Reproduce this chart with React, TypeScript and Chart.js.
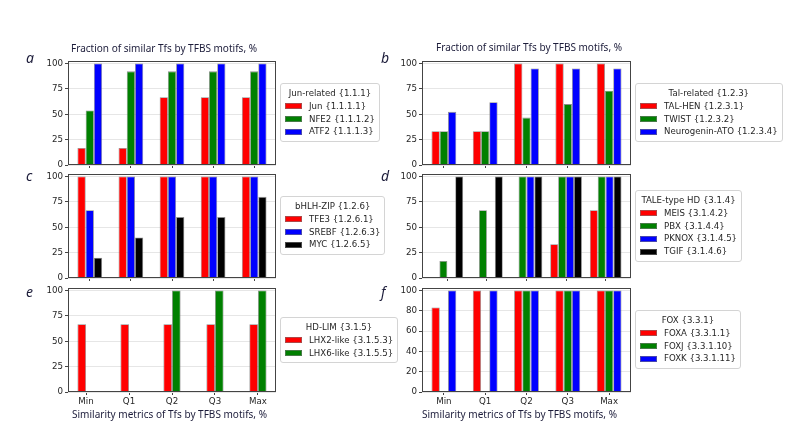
import React, { useEffect, useRef } from 'react';
import { Chart, registerables } from 'chart.js';

Chart.register(...registerables);

// Similarity metric categories along the x axis
const METRICS = ['Min', 'Q1', 'Q2', 'Q3', 'Max'];

// y tick sets
const PERCENT_TICKS = [0, 25, 50, 75, 100];
const FOX_TICKS = [0, 20, 40, 60, 80, 100];

// a: Jun-related {1.1.1}
const JUN = [16.7, 16.7, 66.7, 66.7, 66.7];
const NFE2 = [53.8, 92.3, 92.3, 92.3, 92.3];
const ATF2 = [100, 100, 100, 100, 100];

// b: Tal-related {1.2.3}
const TAL_HEN = [33.3, 33.3, 100, 100, 100];
const TWIST = [33.3, 33.3, 46.7, 60, 73.3];
const NEUROGENIN_ATO = [52.4, 61.9, 95.2, 95.2, 95.2];

// c: bHLH-ZIP {1.2.6}
const TFE3 = [100, 100, 100, 100, 100];
const SREBF = [66.7, 100, 100, 100, 100];
const MYC = [20, 40, 60, 60, 80];

// d: TALE-type HD {3.1.4}
const MEIS = [0, 0, 0, 33.3, 66.7];
const PBX = [16.7, 66.7, 100, 100, 100];
const PKNOX = [0, 0, 100, 100, 100];
const TGIF = [100, 100, 100, 100, 100];

// e: HD-LIM {3.1.5}
const LHX2_LIKE = [66.7, 66.7, 66.7, 66.7, 66.7];
const LHX6_LIKE = [0, 0, 100, 100, 100];

// f: FOX {3.3.1}
const FOXA = [83.3, 100, 100, 100, 100];
const FOXJ = [0, 0, 100, 100, 100];
const FOXK = [100, 100, 100, 100, 100];

const RED = '#ff0000';
const GREEN = '#008000';
const BLUE = '#0000ff';
const BLACK = '#000000';

const TEXT = '#262626';
const AXIS = '#444444';
const GRID = '#e6e6e6';
const EDGE = 'rgba(120,120,120,0.85)';
const CAPTION = '#1c1c3a';

const TICK_FONT = { family: '"DejaVu Sans", sans-serif', size: 8.7 };

type Series = { label: string; values: number[]; color: string };
type Panel = {
  letter: string;
  legendTitle: string;
  series: Series[];
  yTicks: number[];
  showX: boolean;
  col: number;
  row: number;
};

const PANELS: Panel[] = [
  {
    letter: 'a', legendTitle: 'Jun-related {1.1.1}', yTicks: PERCENT_TICKS, showX: false, col: 0, row: 0,
    series: [
      { label: 'Jun {1.1.1.1}', values: JUN, color: RED },
      { label: 'NFE2 {1.1.1.2}', values: NFE2, color: GREEN },
      { label: 'ATF2 {1.1.1.3}', values: ATF2, color: BLUE },
    ],
  },
  {
    letter: 'b', legendTitle: 'Tal-related {1.2.3}', yTicks: PERCENT_TICKS, showX: false, col: 1, row: 0,
    series: [
      { label: 'TAL-HEN {1.2.3.1}', values: TAL_HEN, color: RED },
      { label: 'TWIST {1.2.3.2}', values: TWIST, color: GREEN },
      { label: 'Neurogenin-ATO {1.2.3.4}', values: NEUROGENIN_ATO, color: BLUE },
    ],
  },
  {
    letter: 'c', legendTitle: 'bHLH-ZIP {1.2.6}', yTicks: PERCENT_TICKS, showX: false, col: 0, row: 1,
    series: [
      { label: 'TFE3 {1.2.6.1}', values: TFE3, color: RED },
      { label: 'SREBF {1.2.6.3}', values: SREBF, color: BLUE },
      { label: 'MYC {1.2.6.5}', values: MYC, color: BLACK },
    ],
  },
  {
    letter: 'd', legendTitle: 'TALE-type HD {3.1.4}', yTicks: PERCENT_TICKS, showX: false, col: 1, row: 1,
    series: [
      { label: 'MEIS {3.1.4.2}', values: MEIS, color: RED },
      { label: 'PBX {3.1.4.4}', values: PBX, color: GREEN },
      { label: 'PKNOX {3.1.4.5}', values: PKNOX, color: BLUE },
      { label: 'TGIF {3.1.4.6}', values: TGIF, color: BLACK },
    ],
  },
  {
    letter: 'e', legendTitle: 'HD-LIM {3.1.5}', yTicks: PERCENT_TICKS, showX: true, col: 0, row: 2,
    series: [
      { label: 'LHX2-like {3.1.5.3}', values: LHX2_LIKE, color: RED },
      { label: 'LHX6-like {3.1.5.5}', values: LHX6_LIKE, color: GREEN },
    ],
  },
  {
    letter: 'f', legendTitle: 'FOX {3.3.1}', yTicks: FOX_TICKS, showX: true, col: 1, row: 2,
    series: [
      { label: 'FOXA {3.3.1.1}', values: FOXA, color: RED },
      { label: 'FOXJ {3.3.1.10}', values: FOXJ, color: GREEN },
      { label: 'FOXK {3.3.1.11}', values: FOXK, color: BLUE },
    ],
  },
];

// Plot-area geometry (page pixels)
const COL_LEFT = [68, 422];
const COL_WIDTH = [208, 209];
const ROW_TOP = [61, 174, 288];
const PLOT_H = 104;
const Y_MAX = 102.5;

// Canvas margins around the plot area
const Y_W = 36;
const X_H = 18;
const PAD_T = 10;
const PAD_R = 6;

const framePlugin = {
  id: 'frame',
  afterDatasetsDraw(chart: any) {
    const { ctx, chartArea } = chart;
    const { left, top, right, bottom } = chartArea;
    ctx.save();
    ctx.strokeStyle = AXIS;
    ctx.lineWidth = 1;
    ctx.strokeRect(Math.round(left) + 0.5, Math.round(top) + 0.5, Math.round(right - left) - 1, Math.round(bottom - top) - 1);
    ctx.restore();
  },
};

function BarPanel({ panel }: { panel: Panel }) {
  const ref = useRef<HTMLCanvasElement>(null);
  const plotLeft = COL_LEFT[panel.col];
  const plotW = COL_WIDTH[panel.col];
  const plotTop = ROW_TOP[panel.row];
  const width = Y_W + plotW + PAD_R;
  const height = PAD_T + PLOT_H + X_H;

  useEffect(() => {
    if (!ref.current) return;
    const n = panel.series.length;
    const half = 0.1 * n;
    const margin = 0.05 * (METRICS.length - 1 + 2 * half);
    const xMin = -half - margin;
    const xMax = METRICS.length - 1 + half + margin;

    const chart = new Chart(ref.current, {
      type: 'bar',
      data: {
        datasets: panel.series.map((s) => ({
          label: s.label,
          data: s.values.map((v, i) => ({ x: i, y: v })),
          backgroundColor: s.color,
          borderColor: EDGE,
          borderWidth: 0.8,
          categoryPercentage: 0.2 * n,
          barPercentage: 1,
        })),
      },
      options: {
        animation: false,
        responsive: false,
        maintainAspectRatio: false,
        events: [],
        layout: { padding: { top: PAD_T, right: PAD_R, left: 0, bottom: 0 } },
        plugins: { legend: { display: false }, tooltip: { enabled: false } },
        scales: {
          x: {
            type: 'linear',
            offset: false,
            bounds: 'data',
            min: xMin,
            max: xMax,
            afterBuildTicks: (axis: any) => {
              axis.ticks = METRICS.map((_, i) => ({ value: i }));
            },
            afterFit: (axis: any) => {
              axis.height = X_H;
            },
            border: { display: false },
            grid: { offset: false, drawOnChartArea: false, drawTicks: true, tickLength: 3, tickColor: AXIS, tickWidth: 1 },
            ticks: {
              autoSkip: false,
              maxRotation: 0,
              padding: 2,
              color: TEXT,
              font: TICK_FONT,
              callback: (v: any) => (panel.showX ? METRICS[Math.round(Number(v))] : ''),
            },
          },
          y: {
            type: 'linear',
            min: 0,
            max: Y_MAX,
            afterBuildTicks: (axis: any) => {
              axis.ticks = panel.yTicks.map((v) => ({ value: v }));
            },
            afterFit: (axis: any) => {
              axis.width = Y_W;
            },
            border: { display: false },
            grid: { color: GRID, lineWidth: 1, drawTicks: true, tickLength: 3, tickColor: AXIS, tickWidth: 1 },
            ticks: { padding: 2, color: TEXT, font: TICK_FONT, callback: (v: any) => String(v) },
          },
        },
      },
      plugins: [framePlugin],
    } as any);
    return () => chart.destroy();
  }, [panel]);

  return (
    <canvas
      ref={ref}
      width={width}
      height={height}
      style={{ position: 'absolute', left: plotLeft - Y_W, top: plotTop - PAD_T, width, height }}
    />
  );
}

const LEGEND_ROW = 12.8;
const LEGEND_PAD = 3;

function LegendBox({ panel }: { panel: Panel }) {
  const left = COL_LEFT[panel.col] + COL_WIDTH[panel.col] + 4;
  const centerY = ROW_TOP[panel.row] + PLOT_H / 2;
  const boxH = LEGEND_ROW * (panel.series.length + 1) + 2 * LEGEND_PAD + 2;
  const top = Math.round(centerY - boxH / 2);
  return (
    <div
      style={{
        position: 'absolute',
        left,
        top,
        border: '1px solid #d4d4d4',
        borderRadius: 3,
        background: 'rgba(255,255,255,0.85)',
        padding: `${LEGEND_PAD}px 4px ${LEGEND_PAD}px 4px`,
        fontFamily: '"DejaVu Sans", sans-serif',
        fontSize: 8.6,
        lineHeight: `${LEGEND_ROW}px`,
        color: TEXT,
        whiteSpace: 'nowrap',
      }}
    >
      <div style={{ textAlign: 'center' }}>{panel.legendTitle}</div>
      {panel.series.map((s) => (
        <div key={s.label} style={{ display: 'flex', alignItems: 'center', height: LEGEND_ROW }}>
          <span
            style={{
              display: 'inline-block',
              width: 17,
              height: 6,
              background: s.color,
              marginRight: 7,
              boxSizing: 'border-box',
              border: '0.5px solid rgba(120,120,120,0.6)',
            }}
          />
          <span>{s.label}</span>
        </div>
      ))}
    </div>
  );
}

const TITLE = 'Fraction of similar Tfs by TFBS motifs, %';
const X_TITLE = 'Similarity metrics of Tfs by TFBS motifs, %';

const LETTER_POS: Record<string, [number, number]> = {
  a: [26, 63.3],
  b: [381, 63.3],
  c: [26, 181],
  d: [381, 181],
  e: [26, 296.5],
  f: [381, 296.5],
};

function Captions() {
  const captionFont = '"Noto Sans", "Open Sans", sans-serif';
  return (
    <svg
      width={791}
      height={432}
      style={{ position: 'absolute', left: 0, top: 0, pointerEvents: 'none' }}
    >
      <text x={71} y={51.7} fontFamily={captionFont} fontSize={11} fill={CAPTION} textLength={186} lengthAdjust="spacingAndGlyphs">
        {TITLE}
      </text>
      <text x={436} y={51.2} fontFamily={captionFont} fontSize={11} fill={CAPTION} textLength={186} lengthAdjust="spacingAndGlyphs">
        {TITLE}
      </text>
      <text x={72} y={417.5} fontFamily={captionFont} fontSize={10.5} fill={CAPTION} textLength={195} lengthAdjust="spacingAndGlyphs">
        {X_TITLE}
      </text>
      <text x={422} y={417.5} fontFamily={captionFont} fontSize={10.5} fill={CAPTION} textLength={195} lengthAdjust="spacingAndGlyphs">
        {X_TITLE}
      </text>
      {PANELS.map((p) => (
        <text
          key={p.letter}
          x={LETTER_POS[p.letter][0]}
          y={LETTER_POS[p.letter][1]}
          fontFamily={captionFont}
          fontStyle="italic"
          fontSize={14}
          fill={CAPTION}
        >
          {p.letter}
        </text>
      ))}
    </svg>
  );
}

export default function App() {
  return (
    <div style={{ position: 'absolute', left: 0, top: 0, width: 791, height: 432, background: '#ffffff', overflow: 'hidden' }}>
      {PANELS.map((p) => (
        <BarPanel key={p.letter} panel={p} />
      ))}
      {PANELS.map((p) => (
        <LegendBox key={p.letter} panel={p} />
      ))}
      <Captions />
    </div>
  );
}
